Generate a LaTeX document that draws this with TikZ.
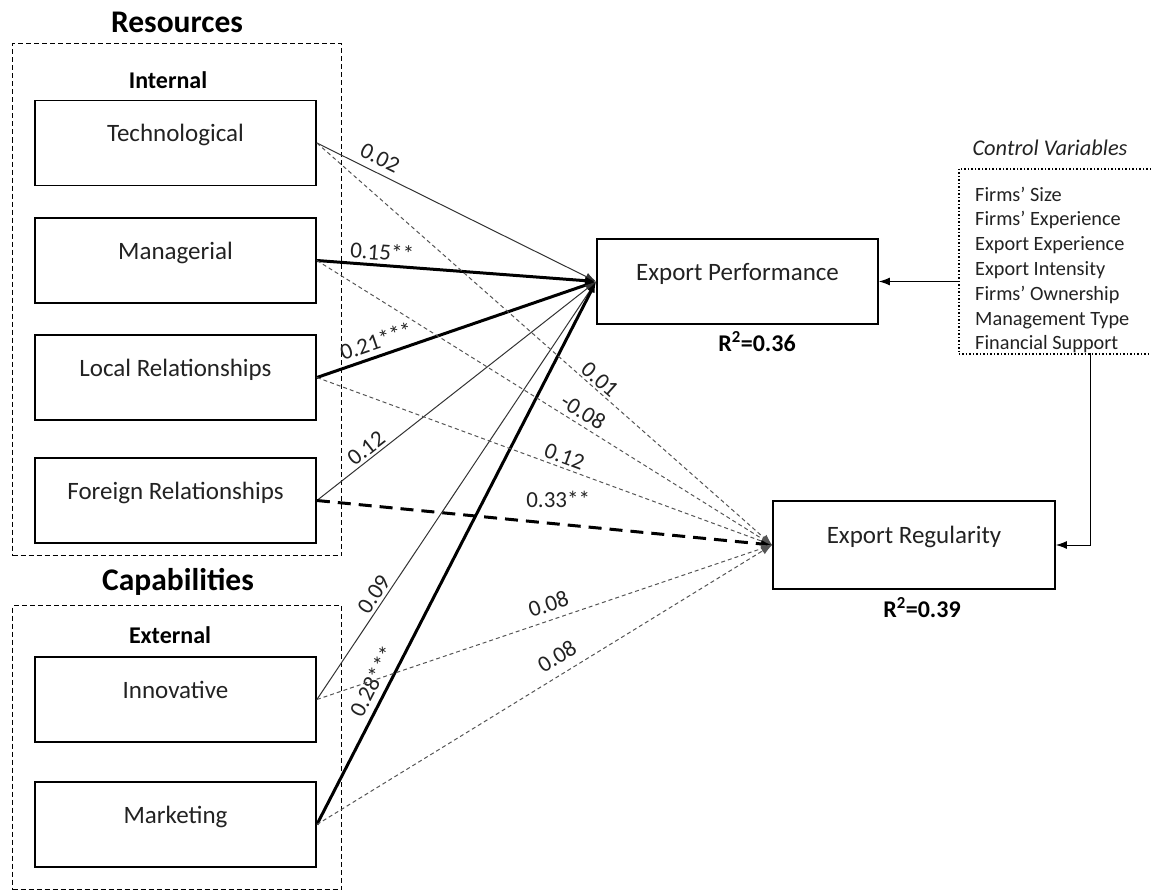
\documentclass[tikz,border=0pt]{standalone}
\usepackage{fontspec}
\setmainfont{Carlito}
\usetikzlibrary{arrows.meta}
\definecolor{txt}{HTML}{222222}
\definecolor{thinln}{HTML}{333333}
\definecolor{dashln}{HTML}{555555}
\begin{document}
\begin{tikzpicture}[x=1pt,y=-1pt,
  box/.style={draw, line width=1.8pt, minimum width=281pt, minimum height=85pt, inner sep=0pt,
    font=\fontsize{25}{30}\selectfont, text=txt, text height=18pt, text depth=21pt},
  grp/.style={draw, line width=1pt, dash pattern=on 5pt off 3pt, minimum width=329pt, inner sep=0pt, anchor=north west},
  ttl/.style={font=\bfseries\fontsize{31.5}{36}\selectfont, text=black},
  sub/.style={font=\bfseries\fontsize{24}{28}\selectfont, text=black},
  elab/.style={font=\fontsize{23}{27}\selectfont, text=txt, inner sep=1.5pt},
  tip/.style={-{Latex[length=11pt,width=8pt]}},
  thinE/.style={tip, line width=1pt, draw=thinln},
  thickE/.style={tip, line width=3pt, draw=black},
  thinD/.style={tip, line width=1pt, draw=dashln, dash pattern=on 4pt off 3pt},
  thickD/.style={tip, line width=3pt, draw=black, dash pattern=on 13pt off 8pt},
  rsq/.style={font=\bfseries\fontsize{24}{28}\selectfont, text=black}
]
\useasboundingbox (0,0) rectangle (1151,891);

% group frames and titles
\node[ttl] (restitle) at (177,22) {Resources};
\node[grp, minimum height=512pt] (resbox) at (12,43) {};
\node[sub] (internal) at (168,80) {Internal};
\node[ttl] (captitle) at (178,582) {Capabilities};
\node[grp, minimum height=284pt] (capbox) at (12,605) {};
\node[sub] (external) at (170,635) {External};

% left boxes
\node[box] (tech) at (175.5,143) {Technological};
\node[box] (man) at (175.5,260.5) {Managerial};
\node[box] (loc) at (175.5,377.5) {Local Relationships};
\node[box] (for) at (175.5,500.5) {Foreign Relationships};
\node[box] (inn) at (175.5,699.5) {Innovative};
\node[box] (mkt) at (175.5,824.5) {Marketing};

% outcome boxes
\node[box] (ep) at (737.5,281.5) {Export Performance};
\node[rsq] (r1) at (757,342) {R\textsuperscript{2}=0.36};
\node[box, minimum width=282pt, minimum height=88pt] (er) at (914,545) {Export Regularity};
\node[rsq] (r2) at (922,608) {R\textsuperscript{2}=0.39};

% control variables
\node[font=\itshape\fontsize{22.4}{26}\selectfont, text=txt] (cvt) at (1050,148) {Control Variables};
\node[draw, line width=1.5pt, dotted, minimum width=205pt, minimum height=185pt, inner sep=0pt, anchor=north west] (cv) at (958,168) {};
\node[anchor=north west, inner sep=0pt, align=left, font=\fontsize{20.3}{24.8}\selectfont, text=txt] (cvlist) at (975,186.5)
  {Firms’ Size\\Firms’ Experience\\Export Experience\\Export Intensity\\Firms’ Ownership\\Management Type\\Financial Support};
\coordinate (cvb) at (1090,353);
\draw[tip, line width=1pt, draw=black] (ep.east -| cv.west) -- (ep.east);
\draw[tip, line width=1pt, draw=black] (cvb) |- (er.east);

% paths to Export Performance
\draw[thinE] (tech.east) -- node[elab, pos=0.203, above=5pt, sloped] {0.02} (ep.west);
\draw[thickE] (man.east) -- node[elab, pos=0.23, above=2pt, sloped] {0.15**} (ep.west);
\draw[thickE] (loc.east) -- node[elab, pos=0.23, above=4pt, sloped] {0.21***} (ep.west);
\draw[thinE] (for.east) -- node[elab, pos=0.2, above=1pt, sloped] {0.12} (ep.west);
\draw[thinE] (inn.east) -- node[elab, pos=0.237, above=1.5pt, sloped] {0.09} (ep.west);
\draw[thickE] (mkt.east) -- node[elab, pos=0.25, above=5pt, sloped] {0.28***} (ep.west);

% paths to Export Regularity
\draw[thinD] (tech.east) -- node[elab, pos=0.607, above=0.5pt, sloped] {0.01} (er.west);
\draw[thinD] (man.east) -- node[elab, pos=0.57, above=3pt, sloped] {-0.08} (er.west);
\draw[thinD] (loc.east) -- node[elab, pos=0.535, above=2pt, sloped] {0.12} (er.west);
\draw[thickD] (for.east) -- node[elab, pos=0.53, above=13pt] {0.33**} (er.west);
\draw[thinD] (inn.east) -- node[elab, pos=0.52, above=6pt, sloped] {0.08} (er.west);
\draw[thinD] (mkt.east) -- node[elab, pos=0.548, above=8pt, sloped] {0.08} (er.west);
\end{tikzpicture}
\end{document}
